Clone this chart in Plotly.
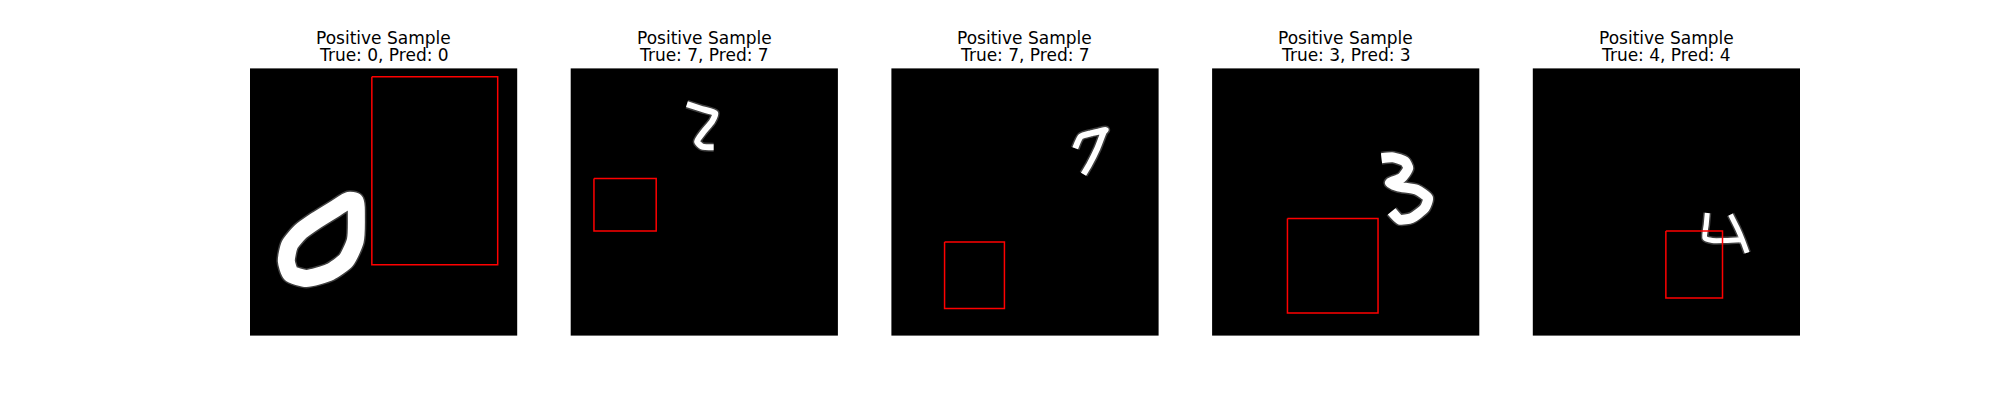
import plotly.graph_objects as go

# labels per sample
true_labels = [0, 7, 7, 3, 4]
pred_labels = [0, 7, 7, 3, 4]

# red boxes in image coords (0-100, y down): x0, y0, x1, y1
boxes = [
    [45.6, 3.1, 92.7, 73.5],
    [8.7, 41.2, 32.0, 60.9],
    [19.9, 65.0, 42.3, 89.9],
    [28.2, 56.2, 62.1, 91.5],
    [49.8, 60.9, 71.0, 85.9],
]

# digit strokes (centre lines)
digit0_x = [39.4, 39.8, 39.4, 36.0, 29.9, 21.1, 15.2, 13.6, 14.8, 18.9, 24.9, 32.0, 37.0, 39.4]
digit0_y = [49.8, 56.0, 64.5, 71.8, 76.2, 78.6, 76.8, 72.1, 66.1, 61.1, 56.8, 52.4, 49.4, 49.8]

digit7a_x = [43.5, 49.1, 54.1, 52.9, 49.8, 47.3, 49.1, 53.5]
digit7a_y = [13.4, 15.2, 16.8, 19.9, 23.6, 27.4, 29.2, 29.5]

digit7b_x = [68.8, 70.9, 74.6, 77.7, 80.2, 79.6, 77.1, 74.0, 71.9]
digit7b_y = [29.9, 25.5, 24.3, 23.6, 23.0, 23.6, 29.9, 36.1, 39.6]

digit3_x = [63.4, 67.8, 72.1, 73.4, 70.9, 66.5, 69.7, 76.5, 80.8, 79.6, 74.6, 70.3, 67.2]
digit3_y = [33.6, 33.3, 34.8, 37.3, 41.0, 42.9, 44.2, 45.4, 48.5, 52.2, 56.0, 56.6, 53.5]

digit4l_x = [65.3, 64.9, 64.4, 67.2, 72.1, 78.4]
digit4l_y = [54.1, 58.5, 63.4, 64.4, 64.4, 64.1]
digit4r_x = [74.0, 76.5, 78.4, 80.2]
digit4r_y = [54.7, 59.7, 64.1, 69.0]

strokes = [
    [(digit0_x, digit0_y)],
    [(digit7a_x, digit7a_y)],
    [(digit7b_x, digit7b_y)],
    [(digit3_x, digit3_y)],
    [(digit4l_x, digit4l_y), (digit4r_x, digit4r_y)],
]
stroke_width = [17, 6, 6, 10, 5]

# page body has an 8px margin, so the figure is a bit smaller and shifted
OFF = 8
W, H = 2000 - OFF, 400 - OFF
left0 = 250 - OFF
panel = 267.2
step = 320.7
top, bottom = 68.4 - OFF, 335.6 - OFF

fig = go.Figure()
layout = {}
annotations = []
for i in range(5):
    n = "" if i == 0 else str(i + 1)
    x0 = (left0 + i * step) / W
    x1 = (left0 + i * step + panel) / W
    layout["xaxis" + n] = dict(domain=[x0, x1], range=[0, 100], visible=False,
                              showgrid=False, zeroline=False, fixedrange=True)
    layout["yaxis" + n] = dict(domain=[1 - bottom / H, 1 - top / H], range=[100, 0],
                              visible=False, showgrid=False, zeroline=False, fixedrange=True)
    xa = "x" + n
    ya = "y" + n

    for sx, sy in strokes[i]:
        # soft edge
        fig.add_trace(go.Scatter(x=sx, y=sy, mode="lines", xaxis=xa, yaxis=ya,
                                 line=dict(color="rgba(255,255,255,0.25)", width=stroke_width[i] + 3,
                                           shape="spline", smoothing=0.6),
                                 hoverinfo="skip", showlegend=False))
        fig.add_trace(go.Scatter(x=sx, y=sy, mode="lines", xaxis=xa, yaxis=ya,
                                 line=dict(color="white", width=stroke_width[i],
                                           shape="spline", smoothing=0.6),
                                 hoverinfo="skip", showlegend=False))

    bx0, by0, bx1, by1 = boxes[i]
    fig.add_trace(go.Scatter(x=[bx0, bx1, bx1, bx0, bx0], y=[by0, by0, by1, by1, by0],
                             mode="lines", xaxis=xa, yaxis=ya,
                             line=dict(color="red", width=1.5),
                             hoverinfo="skip", showlegend=False))

    cx = (x0 + x1) / 2
    annotations.append(dict(text="Positive Sample", x=cx, y=1 - (38.5 - OFF) / H,
                            xref="paper", yref="paper",
                            xanchor="center", yanchor="middle", showarrow=False,
                            font=dict(family="DejaVu Sans", size=17, color="black")))
    annotations.append(dict(text="True: %d, Pred: %d" % (true_labels[i], pred_labels[i]),
                            x=cx, y=1 - (55.5 - OFF) / H, xref="paper", yref="paper",
                            xanchor="center", yanchor="middle", showarrow=False,
                            font=dict(family="DejaVu Sans", size=17, color="black")))

fig.update_layout(**layout)
fig.update_layout(
    width=W, height=H,
    margin=dict(l=0, r=0, t=0, b=0),
    paper_bgcolor="white",
    plot_bgcolor="black",
    annotations=annotations,
    showlegend=False,
)

fig.write_html("out.html")
